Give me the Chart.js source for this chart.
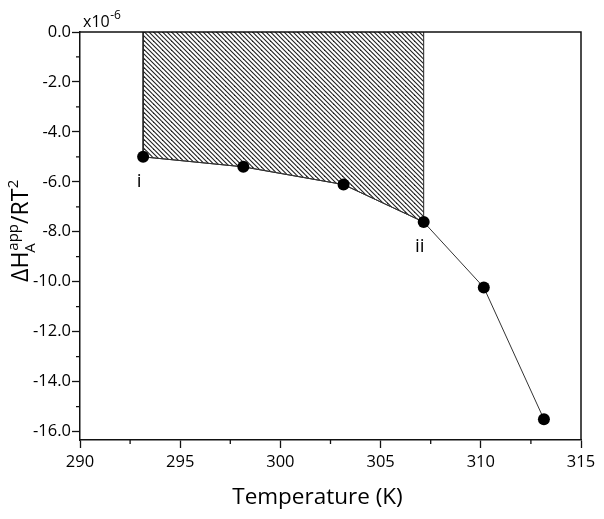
<!DOCTYPE html>
<html>
<head>
<meta charset="utf-8">
<script src="https://cdn.jsdelivr.net/npm/chart.js@4.4.1/dist/chart.umd.min.js"></script>
<style>
  html, body { margin: 0; padding: 0; background: #ffffff; }
  #wrap { width: 604px; height: 519px; }
</style>
</head>
<body>
<div id="wrap"><canvas id="c" width="604" height="519"></canvas></div>
<script>
// ---- data ----
const temperatures = [293.15, 298.15, 303.15, 307.15, 310.15, 313.15];
const values = [-5.0, -5.4, -6.11, -7.61, -10.23, -15.51];   // x10^-6
const pointLabels = ['i', '', '', 'ii', '', ''];
const hatchFrom = 0;   // index of first point of the hatched region
const hatchTo = 3;     // index of last point of the hatched region
const xTicks = [290, 295, 300, 305, 310, 315];
const xMinorTicks = [292.5, 297.5, 302.5, 307.5, 312.5];
const yTicks = [0, -2, -4, -6, -8, -10, -12, -14, -16];
const yMinorTicks = [-1, -3, -5, -7, -9, -11, -13, -15];
const xRange = [290, 315];
const yRange = [-16.34, 0];

const FONT = "'Open Sans', 'Noto Sans', sans-serif";
const AXIS_COLOR = '#111';

// hatch pattern ("\\" diagonal lines)
function makeHatch() {
  const s = 9;
  const cv = document.createElement('canvas');
  cv.width = s; cv.height = s;
  const g = cv.getContext('2d');
  g.strokeStyle = '#1e1e1e';
  g.lineWidth = 1.1;
  for (let k = -3; k <= 3; k++) {
    const o = k * 4.5;
    g.beginPath();
    g.moveTo(o - 2, -2);
    g.lineTo(o + s + 2, s + 2);
    g.stroke();
  }
  return g.createPattern(cv, 'repeat');
}

const mainData = temperatures.map((t, i) => ({ x: t, y: values[i] }));
const hatchData = [{ x: temperatures[hatchFrom], y: 0 }]
  .concat(mainData.slice(hatchFrom, hatchTo + 1))
  .concat([{ x: temperatures[hatchTo], y: 0 }]);

const decorPlugin = {
  id: 'decor',
  afterDraw(chart) {
    const ctx = chart.ctx;
    const ca = chart.chartArea;
    const xs = chart.scales.x, ys = chart.scales.y;
    ctx.save();
    // box: top and right
    ctx.strokeStyle = AXIS_COLOR;
    ctx.lineWidth = 1.5;
    ctx.beginPath();
    ctx.moveTo(ca.left, ca.top);
    ctx.lineTo(ca.right, ca.top);
    ctx.lineTo(ca.right, ca.bottom);
    ctx.stroke();
    // minor ticks
    ctx.lineWidth = 1.3;
    ctx.beginPath();
    yMinorTicks.forEach(v => {
      const y = ys.getPixelForValue(v);
      ctx.moveTo(ca.left - 4, y); ctx.lineTo(ca.left, y);
    });
    xMinorTicks.forEach(v => {
      const x = xs.getPixelForValue(v);
      ctx.moveTo(x, ca.bottom); ctx.lineTo(x, ca.bottom + 4);
    });
    ctx.stroke();

    ctx.fillStyle = '#000';
    // point labels
    ctx.font = '500 19px ' + FONT;
    ctx.textAlign = 'center';
    ctx.textBaseline = 'alphabetic';
    pointLabels.forEach((lab, i) => {
      if (!lab) return;
      const px = xs.getPixelForValue(temperatures[i]);
      const py = ys.getPixelForValue(values[i]);
      ctx.fillText(lab, px - 4, py + 30);
    });

    // x10^-6 multiplier
    ctx.textAlign = 'left';
    ctx.font = '500 16px ' + FONT;
    ctx.fillText('x10', ca.left + 3, ca.top - 5);
    const w10 = ctx.measureText('x10').width;
    ctx.font = '500 12px ' + FONT;
    ctx.fillText('-6', ca.left + 3 + w10 + 0.5, ca.top - 13);

    // x-axis title
    ctx.font = '500 22.5px ' + FONT;
    ctx.textAlign = 'center';
    ctx.fillText('Temperature (K)', 317.5, 504);

    // y-axis title: ΔH_A^app/RT²
    const big = '500 23px ' + FONT, small = '500 15px ' + FONT;
    const parts = [
      { t: '\u0394H', f: big, dy: 0 },
      { t: 'A', f: small, dy: 7 },
      { t: 'app', f: small, dy: -10 },
      { t: '/RT', f: big, dy: 0 },
      { t: '2', f: small, dy: -10 }
    ];
    const widths = parts.map(p => { ctx.font = p.f; return ctx.measureText(p.t).width; });
    const total = widths[0] + Math.max(widths[1], widths[2]) + 1 + widths[3] + widths[4];
    ctx.translate(28, 231);
    ctx.rotate(-Math.PI / 2);
    ctx.textAlign = 'left';
    let x = -total / 2;
    ctx.font = big; ctx.fillText(parts[0].t, x, 0); x += widths[0];
    ctx.font = small; ctx.fillText(parts[1].t, x - 1, parts[1].dy);
    ctx.fillText(parts[2].t, x + 1, parts[2].dy);
    x += Math.max(widths[1], widths[2]) + 1;
    ctx.font = big; ctx.fillText(parts[3].t, x, 0); x += widths[3];
    ctx.font = small; ctx.fillText(parts[4].t, x + 0.5, parts[4].dy);
    ctx.restore();
  }
};

const ctx = document.getElementById('c').getContext('2d');
new Chart(ctx, {
  type: 'line',
  data: {
    datasets: [
      {
        label: 'data',
        data: mainData,
        borderColor: '#333',
        borderWidth: 1,
        pointRadius: 6,
        pointBackgroundColor: '#000',
        pointBorderColor: '#000',
        pointBorderWidth: 0,
        fill: false,
        tension: 0
      },
      {
        label: 'hatch',
        data: hatchData,
        borderColor: '#222',
        borderWidth: 1,
        pointRadius: 0,
        backgroundColor: makeHatch(),
        fill: 'origin',
        tension: 0
      }
    ]
  },
  options: {
    responsive: false,
    animation: false,
    devicePixelRatio: 1,
    layout: { padding: { top: 32, right: 23, bottom: 0, left: 0 } },
    plugins: { legend: { display: false }, tooltip: { enabled: false }, title: { display: false } },
    scales: {
      x: {
        type: 'linear',
        min: xRange[0], max: xRange[1],
        afterBuildTicks: s => { s.ticks = xTicks.map(v => ({ value: v })); },
        afterFit: s => { s.height = 79; },
        grid: { drawOnChartArea: false, drawTicks: true, tickLength: 8, tickWidth: 1.3, tickColor: AXIS_COLOR },
        border: { display: true, color: AXIS_COLOR, width: 1.5 },
        ticks: {
          color: '#000', padding: 4, maxRotation: 0,
          font: { family: FONT, size: 16.5, weight: '500' },
          callback: v => String(v)
        }
      },
      y: {
        type: 'linear',
        min: yRange[0], max: yRange[1],
        afterBuildTicks: s => { s.ticks = yTicks.map(v => ({ value: v })); },
        afterFit: s => { s.width = 80; },
        grid: { drawOnChartArea: false, drawTicks: true, tickLength: 8, tickWidth: 1.3, tickColor: AXIS_COLOR },
        border: { display: true, color: AXIS_COLOR, width: 1.5 },
        ticks: {
          color: '#000', padding: 1,
          font: { family: FONT, size: 16.5, weight: '500' },
          callback: v => Number(v).toFixed(1)
        }
      }
    }
  },
  plugins: [decorPlugin]
});
</script>
</body>
</html>
